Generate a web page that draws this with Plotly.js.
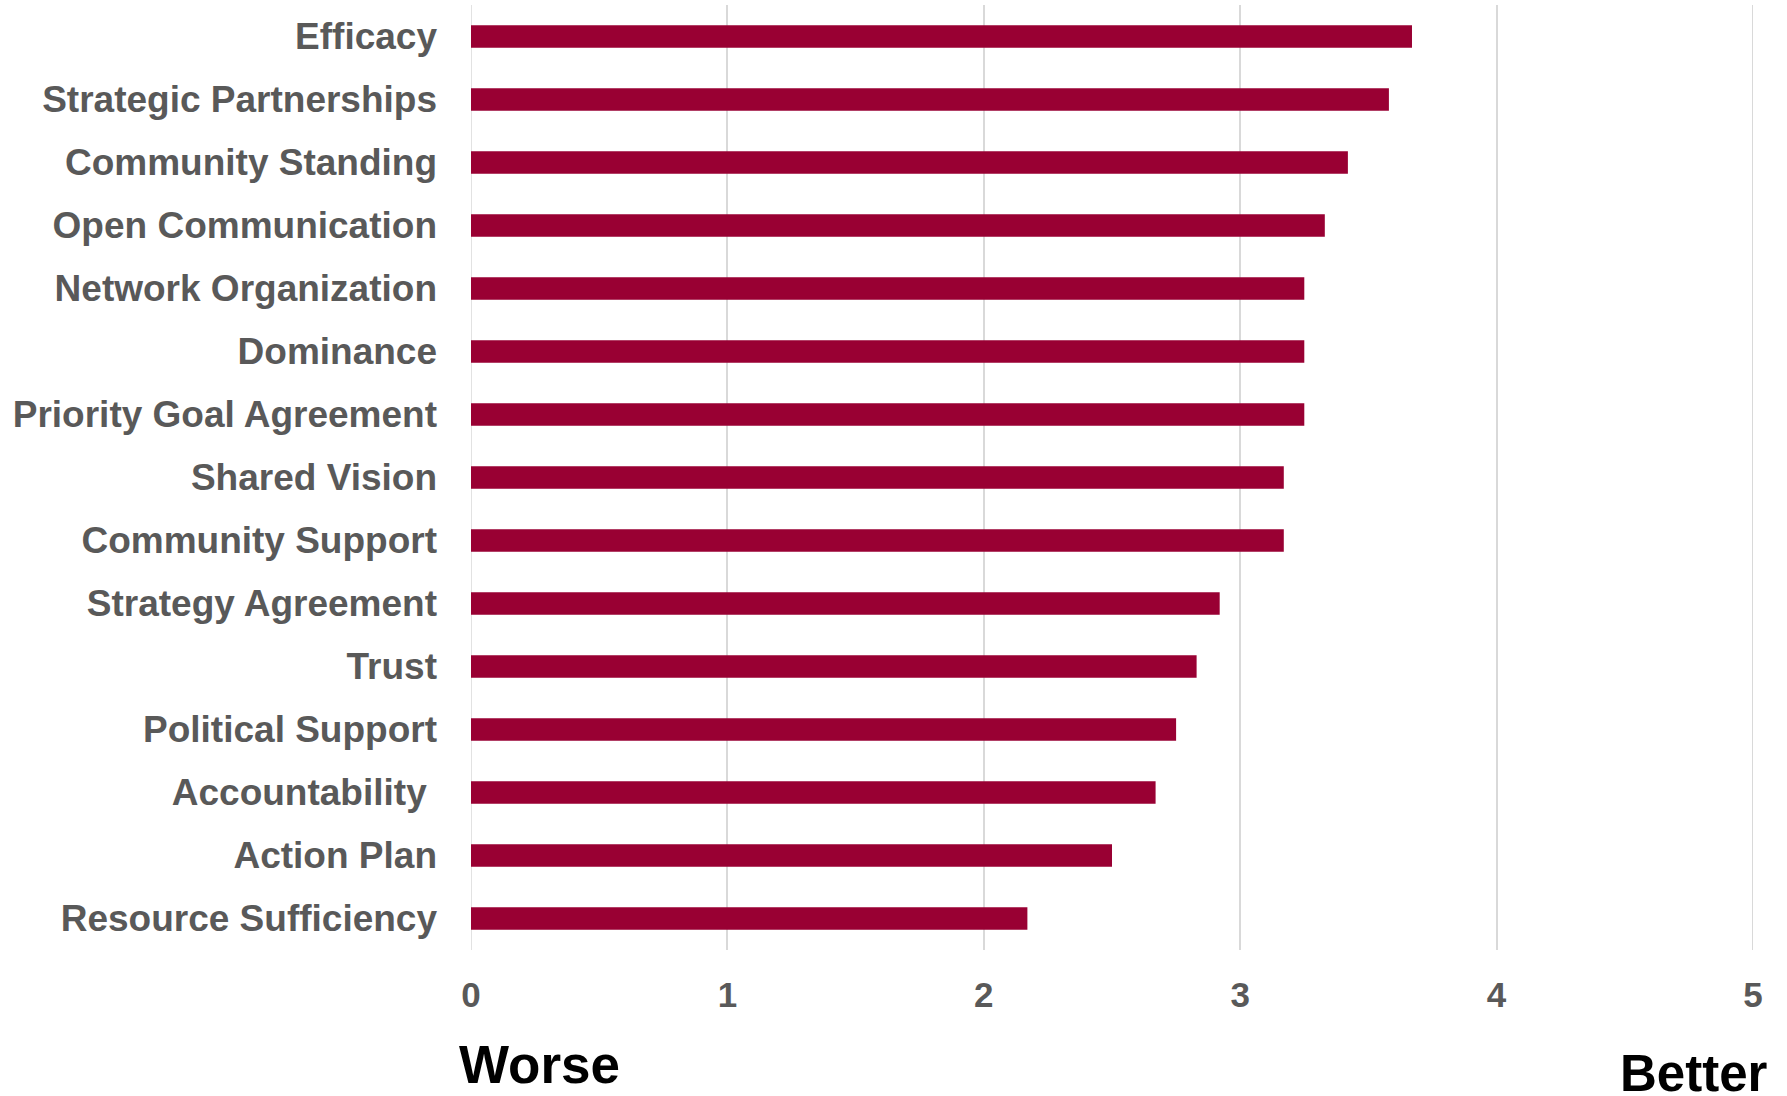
<!DOCTYPE html>
<html>
<head>
<meta charset="utf-8">
<script src="https://cdn.plot.ly/plotly-3.0.1.min.js"></script>
<style>html,body{margin:0;padding:0;background:#fff;}#chart{width:1787px;height:1096px;}</style>
</head>
<body>
<div id="chart"></div>
<script>
const categories = [
  "Efficacy",
  "Strategic Partnerships",
  "Community Standing",
  "Open Communication",
  "Network Organization",
  "Dominance",
  "Priority Goal Agreement",
  "Shared Vision",
  "Community Support",
  "Strategy Agreement",
  "Trust",
  "Political Support",
  "Accountability\u00a0",
  "Action Plan",
  "Resource Sufficiency"
];
const scores = [3.67, 3.58, 3.42, 3.33, 3.25, 3.25, 3.25, 3.17, 3.17, 2.92, 2.83, 2.75, 2.67, 2.50, 2.17];
const xTicks = [0, 1, 2, 3, 4, 5];
const leftLabel = "Worse";
const rightLabel = "Better";

const FONT = "Liberation Sans, Arial, Helvetica, sans-serif";

const trace = {
  type: "bar",
  orientation: "h",
  y: categories,
  x: scores,
  marker: {color: "#990033", line: {width: 0}},
  hoverinfo: "x+y"
};

const layout = {
  width: 1787,
  height: 1096,
  margin: {l: 471, r: 34, t: 5, b: 146, pad: 0},
  paper_bgcolor: "#ffffff",
  plot_bgcolor: "#ffffff",
  showlegend: false,
  bargap: 0.645,
  font: {family: FONT},
  xaxis: {
    range: [0, 5],
    tickvals: xTicks,
    ticktext: xTicks.map(String),
    showgrid: true,
    gridcolor: "#d9d9d9",
    gridwidth: 1.5,
    zeroline: false,
    showline: false,
    ticks: "",
    ticklabelstandoff: 21,
    tickfont: {family: FONT, size: 35, color: "#595959", weight: "bold"},
    fixedrange: true
  },
  yaxis: {
    type: "category",
    categoryorder: "array",
    categoryarray: categories,
    range: [14.5, -0.5],
    showgrid: false,
    zeroline: false,
    showline: false,
    ticks: "",
    ticklabelstandoff: 33,
    tickfont: {family: FONT, size: 37, color: "#595959", weight: "bold"},
    fixedrange: true
  },
  shapes: [
    {
      type: "line", xref: "x", yref: "paper", x0: 0, x1: 0, y0: 0, y1: 1,
      line: {color: "#d9d9d9", width: 1.5}, layer: "below"
    },
    {
      type: "line", xref: "x", yref: "paper", x0: 5, x1: 5, y0: 0, y1: 1,
      line: {color: "#d9d9d9", width: 2}, layer: "below"
    }
  ],
  annotations: [
    {
      text: leftLabel, xref: "paper", yref: "paper", x: -0.0113, y: -0.121,
      xanchor: "left", yanchor: "middle", showarrow: false,
      font: {family: FONT, size: 53, color: "#000000", weight: "bold"}
    },
    {
      text: rightLabel, xref: "paper", yref: "paper", x: 1.0135, y: -0.131,
      xanchor: "right", yanchor: "middle", showarrow: false,
      font: {family: FONT, size: 51, color: "#000000", weight: "bold"}
    }
  ]
};

Plotly.newPlot("chart", [trace], layout, {displayModeBar: false, staticPlot: false});
</script>
</body>
</html>
